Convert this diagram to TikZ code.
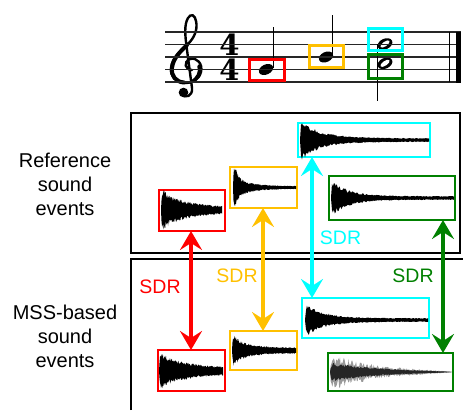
\documentclass[tikz,border=0pt]{standalone}
\usepackage{fontspec}
\newfontfamily\arial{Liberation Sans}
\newfontfamily\tsfont{DejaVu Serif}
\usetikzlibrary{arrows.meta}
\definecolor{cred}{RGB}{255,0,0}
\definecolor{corange}{RGB}{255,192,0}
\definecolor{ccyan}{RGB}{0,255,255}
\definecolor{cgreen}{RGB}{0,128,0}
\tikzset{
  declare function={
    fatk(\ta)=1-exp(-min(\ta/0.8,9));
    fdec(\ta,\tb)=exp(-min(\ta/\tb,9));
  },
  bigbox/.style={draw=black, line width=2pt},
  wbox/.style={draw, line width=2pt, inner sep=0pt, outer sep=0pt, anchor=north west},
  sbox/.style={line width=3pt},
  staffline/.style={line width=1.1pt, black!85},
  sdrarrow/.style={line width=3.5pt,
    {Stealth[length=19pt,width=22pt,inset=7pt]}-{Stealth[length=19pt,width=22pt,inset=7pt]}},
  sdrlbl/.style={font=\arial\fontsize{19.5}{20}\selectfont, inner sep=0pt},
  lbl/.style={font=\arial\fontsize{20}{24}\selectfont, align=center, inner sep=0pt},
}
% waveform: #1 x0, #2 x1, #3 yc, #4 A1, #5 tau1, #6 A2, #7 tau2, #8 tail
\newcommand\wvform[8]{%
  \fill[black] plot[domain=#1:#2, samples=130]
    (\x,{#3-fatk(\x-#1)*(#8+#4*fdec(\x-#1,#5)+#6*fdec(\x-#1,#7))*(1+0.22*rand)})
    -- plot[domain=#2:#1, samples=130]
    (\x,{#3+fatk(\x-#1)*(#8+#4*fdec(\x-#1,#5)+#6*fdec(\x-#1,#7))*(1+0.22*rand)}) -- cycle;
}
% noisy gray waveform: #1 x0, #2 x1, #3 yc, #4 A, #5 tau, #6 noise, #7 colour
\newcommand\wvgray[7]{%
  \fill[#7] plot[domain=#1:#2, samples=160]
    (\x,{#3-fatk(\x-#1)*(1+#4*fdec(\x-#1,#5))*sqrt(max(1-(\x-#1)/(#2-#1),0))*(1+#6*rand)})
    -- plot[domain=#2:#1, samples=160]
    (\x,{#3+fatk(\x-#1)*(1+#4*fdec(\x-#1,#5))*sqrt(max(1-(\x-#1)/(#2-#1),0))*(1+#6*rand)}) -- cycle;
}
\begin{document}
\begin{tikzpicture}[x=1pt,y=-1pt]
\pgfmathsetseed{11}
\useasboundingbox (0,0) rectangle (463,410);

% ---------- score ----------
% treble clef
\draw[line width=2.4pt, line cap=round]
  (192,70) .. controls (185,70) and (183,62) .. (190,59)
  .. controls (197,57) and (203,64) .. (201,72)
  .. controls (199,80) and (192,83) .. (186,83)
  .. controls (176,83) and (170,76) .. (171,68)
  .. controls (172,57) and (182,50) .. (188,44)
  .. controls (194,38) and (198,30) .. (196,21)
  .. controls (195,15) and (191,13) .. (188,18)
  .. controls (184,25) and (185,35) .. (187,50)
  -- (192,88)
  .. controls (193,96) and (185,99) .. (182,94);
\draw[line width=4pt, line cap=round]
  (184,82.5) .. controls (176,82) and (171,76) .. (172,68)
  .. controls (173,58) and (181,51) .. (187,45);
\draw[line width=3.4pt, line cap=round]
  (199,66) .. controls (201,72) and (198,79) .. (191,82);
\fill (183.5,92.5) circle (4.8pt);
% time signature
\node[inner sep=0pt, align=center, font=\tsfont\fontsize{29}{24.5}\selectfont\bfseries] (ts) at (229.5,57.3) {4\\4};
% note heads
\fill[rotate around={25:(266,69.5)}] (266,69.5) ellipse [x radius=7.5pt, y radius=5pt];
\fill[rotate around={25:(326,57)}] (326,57) ellipse [x radius=7.5pt, y radius=5pt];
\fill[rotate around={25:(385,44)}] (385,44) ellipse [x radius=7.8pt, y radius=5.3pt];
\fill[white, rotate around={35:(385,44)}] (385,44) ellipse [x radius=5.4pt, y radius=2.3pt];
\fill[rotate around={25:(385,63.3)}] (385,63.3) ellipse [x radius=7.8pt, y radius=5.3pt];
\fill[white, rotate around={35:(385,63.3)}] (385,63.3) ellipse [x radius=5.4pt, y radius=2.3pt];
% staff lines
\foreach \yy in {32,44.5,57,69.5,82} \draw[staffline] (165,\yy) -- (461,\yy);
% stems
\draw[line width=1.3pt] (273.8,68) -- (273.8,27);
\draw[line width=1.3pt] (332.8,55.5) -- (332.8,15);
\draw[line width=1.3pt] (377.6,44) -- (377.6,101);
% barlines
\draw[line width=1.3pt] (449.5,32) -- (449.5,82);
\fill (455.5,31.5) rectangle (460.8,82.5);
% score boxes
\draw[sbox, cred] (249.5,59.5) rectangle (284.5,80.5);
\draw[sbox, corange] (309.5,45.5) rectangle (343.5,67.5);
\draw[sbox, ccyan] (368.5,28.5) rectangle (402.5,50);
\draw[sbox, cgreen] (368.5,54.5) rectangle (402.5,78);

% ---------- big boxes ----------
\draw[bigbox] (131,113) rectangle (460,253);
\draw[bigbox] (131,410) -- (131,259) -- (463,259);

% ---------- left labels ----------
\node[lbl] (reflbl) at (65,184) {Reference\\sound\\events};
\node[lbl] (msslbl) at (65,336) {MSS-based\\sound\\events};

% ---------- waveform boxes ----------
\node[wbox, draw=cred, minimum width=66pt, minimum height=41pt] (tr) at (159,190) {};
\node[wbox, draw=corange, minimum width=67pt, minimum height=41pt] (to) at (230,167) {};
\node[wbox, draw=ccyan, minimum width=132pt, minimum height=34pt] (tc) at (298,123) {};
\node[wbox, draw=cgreen, minimum width=126pt, minimum height=44pt] (tg) at (329,176) {};
\node[wbox, draw=cred, minimum width=67pt, minimum height=41pt] (br) at (158,350) {};
\node[wbox, draw=corange, minimum width=67pt, minimum height=39pt] (bo) at (230,331) {};
\node[wbox, draw=ccyan, minimum width=127pt, minimum height=40pt] (bc) at (302,298) {};
\node[wbox, draw=cgreen, minimum width=125pt, minimum height=38pt] (bg) at (328,353) {};

% ---------- waveforms ----------
\wvform{161}{222}{210}{8}{3}{14}{30}{1.5}
\wvform{233}{296}{187.5}{18}{3.5}{8}{15}{1.3}
\wvform{300}{429}{140}{5}{5}{14}{22}{1.6}
\wvform{331}{454}{198}{5}{4}{13}{18}{1.6}
\wvform{159}{223}{371}{4}{4}{12}{28}{2.5}
\wvform{232}{296}{350.5}{5}{3}{10}{14}{2.5}
\wvform{305}{428}{320}{4}{4}{12}{20}{1.6}
\wvgray{330}{452}{372}{12}{60}{0.45}{black!40}
\wvgray{330}{452}{372}{7}{60}{0.25}{black!85}

% ---------- SDR arrows ----------
\coordinate (xr) at (191,0);
\coordinate (xo) at (263,0);
\coordinate (xc) at (312,0);
\coordinate (xg) at (443,0);
\draw[sdrarrow, cred] (tr.south -| xr) -- (br.north -| xr);
\draw[sdrarrow, corange] (to.south -| xo) -- (bo.north -| xo);
\draw[sdrarrow, ccyan] (tc.south -| xc) -- (bc.north -| xc);
\draw[sdrarrow, cgreen] (tg.south -| xg) -- (bg.north -| xg);

\node[sdrlbl, text=cred] (sdrr) at (160,287) {SDR};
\node[sdrlbl, text=corange] (sdro) at (237,276) {SDR};
\node[sdrlbl, text=ccyan] (sdrc) at (340.5,238) {SDR};
\node[sdrlbl, text=cgreen] (sdrg) at (413,276) {SDR};
\end{tikzpicture}
\end{document}
